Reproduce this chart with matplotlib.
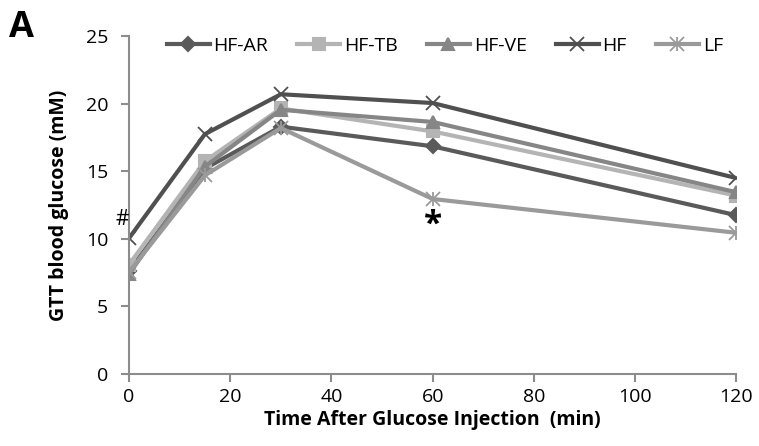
import matplotlib
matplotlib.use("Agg")
import matplotlib.pyplot as plt
from matplotlib import font_manager

names = {f.name for f in font_manager.fontManager.ttflist}
fam = "Liberation Sans Narrow" if "Liberation Sans Narrow" in names else "Open Sans"
plt.rcParams['font.family'] = [fam, 'DejaVu Sans']

times = [0, 15, 30, 60, 120]
series_names = ["HF-AR", "HF-TB", "HF-VE", "HF", "LF"]
hf_ar = [7.6, 15.2, 18.3, 16.85, 11.75]
hf_tb = [8.1, 15.75, 19.65, 17.95, 13.2]
hf_ve = [7.4, 15.35, 19.55, 18.65, 13.45]
hf = [10.05, 17.75, 20.7, 20.05, 14.5]
lf = [7.55, 14.7, 18.2, 12.95, 10.45]
values = [hf_ar, hf_tb, hf_ve, hf, lf]

colors = ["#5a5a5a", "#b4b4b4", "#868686", "#505050", "#9a9a9a"]
markers = ["D", "s", "^", "x", "x"]
msizes = [7, 9, 8, 10, 10]

fig = plt.figure(figsize=(7.59, 4.46), dpi=100)
ax = fig.add_axes([0.170, 0.1614, 0.800, 0.7576])

handles = []
for name, v, c, m, ms in zip(series_names, values, colors, markers, msizes):
    h, = ax.plot(times, v, color=c, lw=3, marker=m, ms=ms, mew=1.5 if m != "x" else 1.3,
                 label=name, solid_joinstyle='round')
    handles.append(h)
# LF asterisk: add vertical stroke to the x marker
vbar, = ax.plot(times, lf, ls='none', marker='|', ms=10, mew=1.3, color=colors[4])
handles[-1] = (handles[-1], vbar)

ax.set_xlim(0, 120)
ax.set_ylim(0, 25)
ax.set_xticks([0, 20, 40, 60, 80, 100, 120])
ax.set_yticks([0, 5, 10, 15, 20, 25])
for s in ['top', 'right']:
    ax.spines[s].set_visible(False)
for s in ['left', 'bottom']:
    ax.spines[s].set_color('#8c8c8c')
    ax.spines[s].set_linewidth(1.5)
ax.tick_params(axis='both', colors='#8c8c8c', labelcolor='black', labelsize=14,
               length=6, width=1.5)
ax.tick_params(axis='x', pad=4)
ax.tick_params(axis='y', pad=9)

ax.set_xlabel("Time After Glucose Injection  (min)", fontsize=14, fontweight='bold', labelpad=3)
ax.set_ylabel("GTT blood glucose (mM)", fontsize=14, fontweight='bold', labelpad=12)

ax.text(0, 11.4, "#", fontsize=15, ha='right', va='center')
ax.text(60, 11.0, "*", fontsize=24, ha='center', va='center', fontweight='bold')
fig.text(0.012, 0.937, "A", fontsize=26, fontweight='bold', va='center')

leg = ax.legend(handles=handles, labels=series_names, loc='upper center',
                bbox_to_anchor=(0.52, 1.05), ncol=5,
                frameon=False, fontsize=14, handlelength=2.2, handletextpad=0.2,
                columnspacing=1.5)

fig.savefig("out.png", dpi=100)
